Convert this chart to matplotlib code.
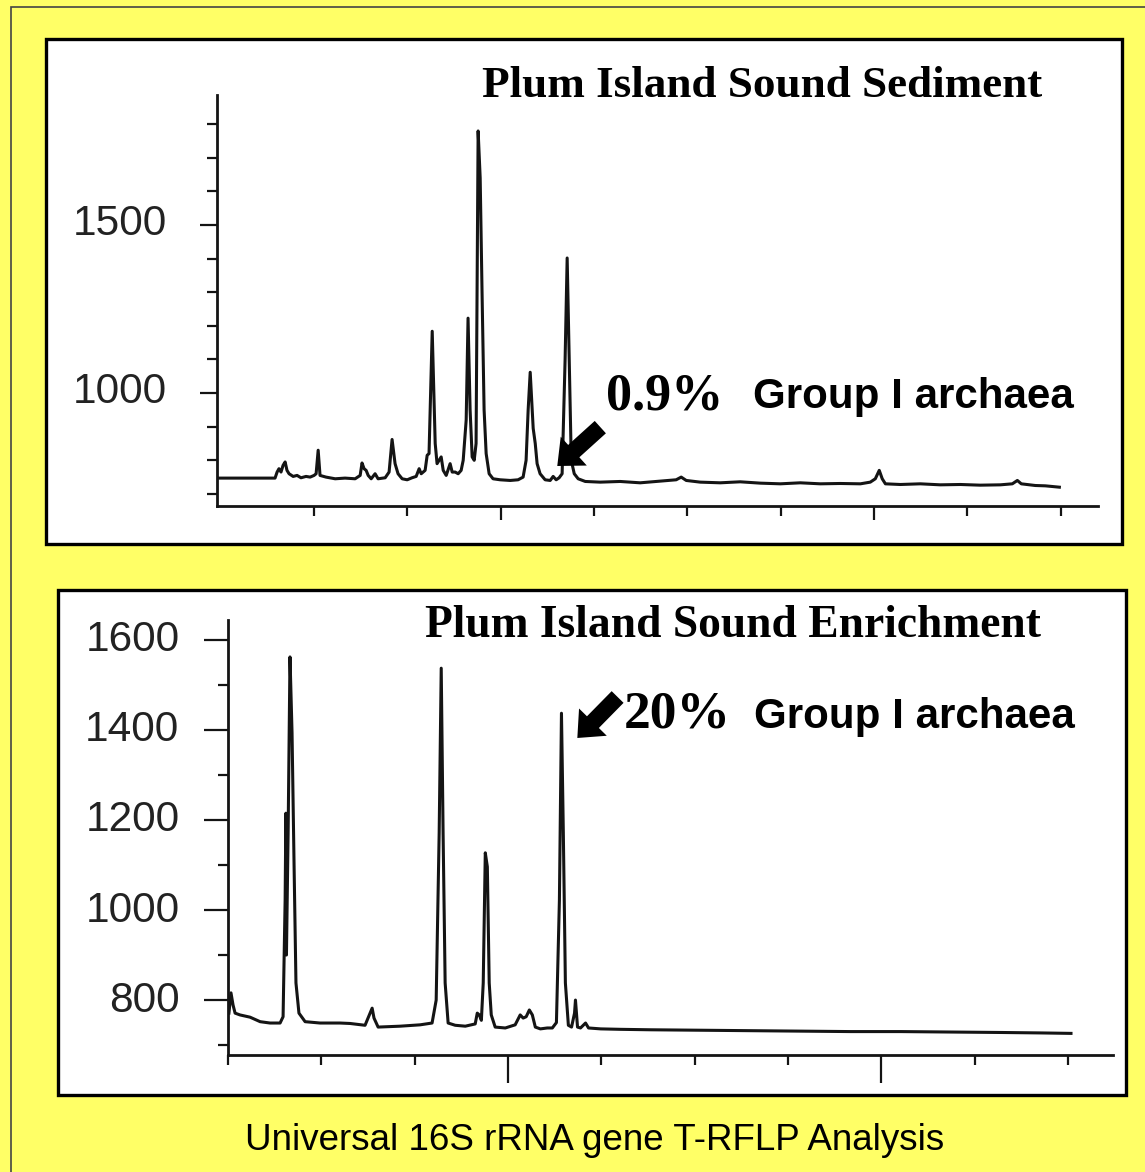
import matplotlib.pyplot as plt
from matplotlib.patches import Rectangle
from matplotlib.ticker import FixedLocator
from matplotlib.transforms import ScaledTranslation

# T-RFLP electropherogram traces: fragment position vs. fluorescence
sed_x = [-1.5, 29.1, 30.2, 31.2, 32.3, 33.4, 34.5, 35.5, 36.6, 38.8, 40.9, 43.0, 45.7, 47.9,
         50.0, 51.1, 52.2, 53.2, 56.4, 61.3, 66.6, 72.0, 74.7, 75.7, 76.8, 77.9, 79.0, 80.6,
         82.7, 84.3, 88.1, 90.2, 91.8, 93.4, 95.0, 97.2, 99.9, 102.5, 104.7, 106.3, 107.4,
         109.5, 110.6, 111.6, 113.3, 114.9, 115.9, 117.0, 118.1, 119.2, 120.8, 122.9, 124.0,
         125.6, 127.2, 128.8, 129.9, 131.5, 132.5, 133.6, 134.7, 135.8, 136.8, 137.9, 139.0,
         140.0, 141.1, 142.2, 143.8, 145.9, 149.7, 155.1, 159.3, 162.0, 163.6, 164.7, 165.8,
         166.9, 167.4, 168.5, 169.5, 171.1, 173.8, 176.5, 178.1, 179.7, 181.3, 182.9, 184.5,
         185.6, 186.7, 187.8, 189.4, 191.5, 195.3, 203.3, 214.0, 224.7, 235.5, 244.0, 246.7,
         249.4, 256.9, 267.6, 278.3, 289.1, 299.8, 310.5, 321.2, 331.9, 342.7, 348.0, 350.7,
         352.8, 354.4, 356.1, 364.1, 374.8, 385.5, 396.3, 406.9, 417.7, 424.1, 426.8, 428.9,
         436.4, 441.8, 449.3]
sed_y = [747, 747, 765, 775, 765, 785, 795, 770, 760, 752, 755, 748, 752, 750,
         755, 760, 830, 755, 750, 745, 747, 745, 755, 792, 775, 770, 755, 745,
         760, 745, 748, 765, 862, 790, 760, 745, 742, 748, 752, 775, 760,
         770, 815, 820, 1184, 850, 790, 800, 810, 770, 755, 790, 765,
         765, 760, 770, 800, 920, 1223, 950, 810, 800, 850, 1780, 1640,
         1300, 950, 820, 760, 745, 742, 740, 742, 750, 800, 950, 1062,
         950, 895, 850, 790, 760, 742, 740, 752, 742, 748, 760, 1100,
         1402, 1100, 800, 760, 745, 737, 735, 737, 733, 738, 742, 750,
         740, 735, 733, 736, 732, 730, 733, 730, 731, 730, 735, 745,
         770, 745, 730, 728, 730, 727, 728, 726, 727, 730, 740, 730,
         725, 724, 720]

enr_x = [0.5, 1.6, 2.7, 3.8, 6.4, 11.8, 17.2, 22.5, 27.9, 29.5, 30.6, 31.0, 31.3, 32.2,
         33.2, 34.3, 35.4, 36.4, 38.0, 41.3, 49.3, 60.0, 65.4, 73.4, 76.1, 77.2, 78.2,
         80.4, 92.2, 102.9, 109.3, 111.5, 113.1, 114.2, 115.2, 116.3, 117.9, 121.7, 127.1,
         132.4, 133.5, 134.6, 135.7, 136.7, 137.8, 138.9, 139.9, 141.0, 143.1, 148.5,
         153.8, 156.5, 158.1, 159.7, 161.4, 163.0, 164.6, 167.3, 171.0, 173.7, 175.9,
         177.5, 178.6, 179.6, 180.7, 182.3, 184.0, 185.6, 186.1, 187.2, 188.8, 191.5,
         193.1, 199.6, 210.3, 226.4, 253.2, 280.0, 306.8, 333.6, 360.4, 387.2, 414.0,
         435.4, 451.5]
enr_y = [771, 816, 789, 771, 767, 762, 752, 749, 749, 763, 1022, 1215, 900, 1171,
         1562, 1393, 1096, 838, 771, 752, 749, 749, 748, 744, 771, 782, 760,
         740, 742, 745, 749, 800, 1171, 1537, 1171, 838, 749, 744, 742,
         747, 771, 767, 755, 838, 1127, 1096, 838, 767, 740, 738,
         745, 767, 760, 763, 778, 767, 740, 736, 738, 738, 750,
         1022, 1437, 1171, 838, 744, 740, 771, 800, 740, 738, 749,
         738, 736, 735, 734, 733, 732, 731, 730, 730, 729, 728,
         727, 726]

sed_x_ticks = list(range(50, 451, 50))
enr_x_ticks = list(range(0, 451, 50))
x_long = [150, 350]
sed_labels = [1000, 1500]
enr_labels = [800, 1000, 1200, 1400, 1600]

# annotated Group I archaea peaks: (tip position, tip height)
sed_arrow = (180.3, 783)
enr_arrow = (187.1, 1382)

W, H = 1145, 1172
yellow = '#ffff66'
ink = '#141414'
sans = 'Liberation Sans'
serif = 'Liberation Serif'

fig = plt.figure(figsize=(W / 100, H / 100), dpi=100)
fig.patch.set_facecolor(yellow)


def fx(px):
    return px / W


def fy(py):
    return 1 - py / H


# outer frame and the two white panels, kept behind the axes
fig.patches.append(Rectangle((fx(11), fy(1180)), 1.2, fy(7) - fy(1180), transform=fig.transFigure,
                             fill=False, ec='#444444', lw=1.2, zorder=-2))
for l, t, r, b in [(46, 39, 1122, 544), (58, 590, 1126, 1095)]:
    fig.patches.append(Rectangle((fx(l), fy(b)), fx(r) - fx(l), fy(t) - fy(b),
                                 transform=fig.transFigure, fc='white', ec='black',
                                 lw=2.4, zorder=-1))


def setup(ax, xlim, ylim, xticks, ylabels, xlong_len, ylong_len, ypad, lift):
    ax.set_facecolor('none')
    ax.set_xlim(*xlim)
    ax.set_ylim(*ylim)
    for s in ['top', 'right']:
        ax.spines[s].set_visible(False)
    for s in ['left', 'bottom']:
        ax.spines[s].set_linewidth(2.0)
        ax.spines[s].set_color(ink)
    ax.xaxis.set_major_locator(FixedLocator(x_long))
    ax.xaxis.set_minor_locator(FixedLocator([t for t in xticks if t not in x_long]))
    ax.set_xticklabels([])
    ax.yaxis.set_major_locator(FixedLocator(ylabels))
    lo = int(ylim[0] // 100 + 1) * 100
    ax.yaxis.set_minor_locator(FixedLocator([v for v in range(lo, int(ylim[1]), 100)
                                             if v not in ylabels]))
    ax.set_yticklabels([str(v) for v in ylabels], fontsize=30.5, fontfamily=sans,
                       color='#222222')
    ax.tick_params(axis='x', which='major', length=xlong_len, width=1.6, color=ink)
    ax.tick_params(axis='x', which='minor', length=7, width=1.6, color=ink)
    ax.tick_params(axis='y', which='major', length=ylong_len, width=1.6, color=ink, pad=ypad)
    ax.tick_params(axis='y', which='minor', length=7, width=1.6, color=ink)
    # labels sit a little above their ticks
    shift = ScaledTranslation(0, lift / 100, fig.dpi_scale_trans)
    for lab in ax.get_yticklabels():
        lab.set_transform(lab.get_transform() + shift)


def arrow(ax, tip, off):
    ax.annotate('', xy=tip, xycoords='data', xytext=off, textcoords='offset points',
                arrowprops=dict(arrowstyle='simple,head_length=0.8,head_width=1.4,tail_width=0.6',
                                mutation_scale=20, fc='black', ec='black', lw=0,
                                shrinkA=0, shrinkB=0))


# upper panel: sediment
ax1 = fig.add_axes([fx(217), fy(506), fx(1098) - fx(217), fy(95) - fy(506)])
setup(ax1, (-2, 470), (664, 1887), sed_x_ticks, sed_labels, 10, 12, 24, 6)
ax1.plot(sed_x, sed_y, color=ink, lw=2.2, solid_joinstyle='round')
arrow(ax1, sed_arrow, (31, 28))
ax1.text((762 - 217) / 881, (506 - 97) / 411, 'Plum Island Sound Sediment',
         transform=ax1.transAxes, ha='center', va='baseline', fontsize=32.5,
         fontweight='bold', fontfamily=serif)
ax1.text((606 - 217) / 881, (506 - 410) / 411, '0.9%', transform=ax1.transAxes,
         fontsize=37.5, fontweight='bold', fontfamily=serif, va='baseline', ha='left')
ax1.text((753 - 217) / 881, (506 - 408) / 411, 'Group I archaea', transform=ax1.transAxes,
         fontsize=30.3, fontweight='bold', fontfamily=sans, va='baseline', ha='left')

# lower panel: enrichment
ax2 = fig.add_axes([fx(228), fy(1055), fx(1113) - fx(228), fy(620) - fy(1055)])
setup(ax2, (0, 474), (678, 1644), enr_x_ticks, enr_labels, 20, 17, 18, 4)
ax2.plot(enr_x, enr_y, color=ink, lw=2.2, solid_joinstyle='round')
arrow(ax2, enr_arrow, (29, 29.5))
ax2.text((733 - 228) / 885, (1055 - 637) / 435, 'Plum Island Sound Enrichment',
         transform=ax2.transAxes, ha='center', va='baseline', fontsize=32.8,
         fontweight='bold', fontfamily=serif)
ax2.text((624 - 228) / 885, (1055 - 728) / 435, '20%', transform=ax2.transAxes,
         fontsize=38.5, fontweight='bold', fontfamily=serif, va='baseline', ha='left')
ax2.text((754 - 228) / 885, (1055 - 728) / 435, 'Group I archaea', transform=ax2.transAxes,
         fontsize=30.3, fontweight='bold', fontfamily=sans, va='baseline', ha='left')

fig.text(fx(595), fy(1150), 'Universal 16S rRNA gene T-RFLP Analysis', ha='center',
         va='baseline', fontsize=26.5, fontfamily=sans)

fig.savefig('out.png', dpi=100, facecolor=fig.get_facecolor())
